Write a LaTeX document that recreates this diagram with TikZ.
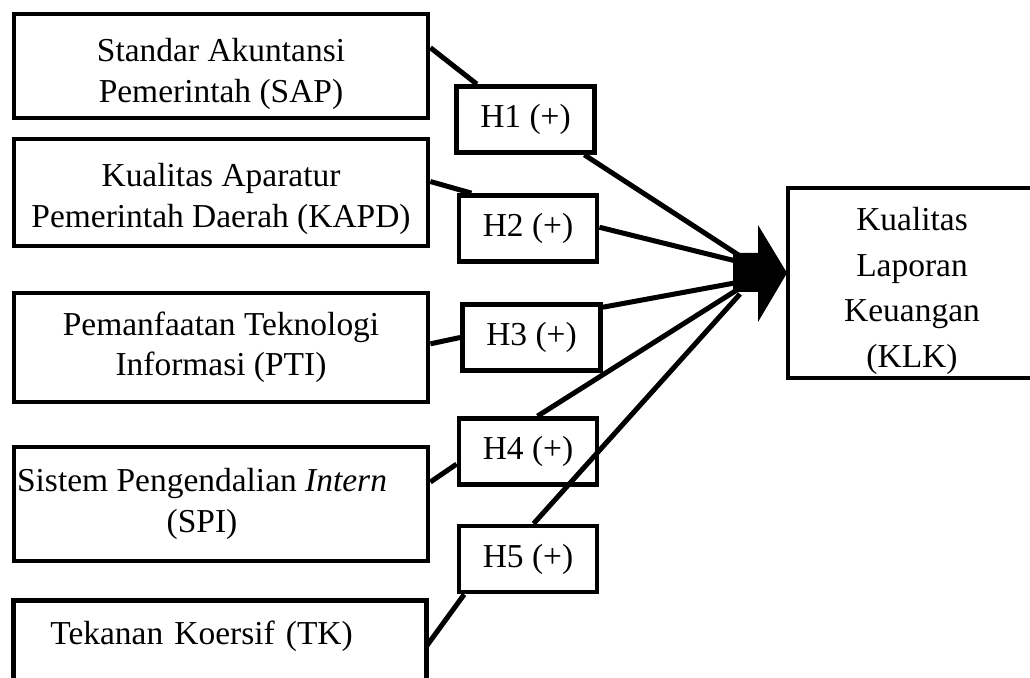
\documentclass[tikz,border=0pt]{standalone}
\usepackage{fontspec}
\setmainfont{Liberation Serif}
\usetikzlibrary{positioning, calc}
\newcommand{\pxu}{0.0126cm}
\tikzset{
  varbox/.style={draw, line width=1.7pt, fill=white, align=center, inner sep=0pt, font=\fontsize{12}{14.4}\selectfont},
  hypbox/.style={varbox, minimum width=138*\pxu, minimum height=66*\pxu},
  link/.style={line width=1.8pt},
}

\begin{document}
\begin{tikzpicture}[x=\pxu, y=-\pxu]
    \useasboundingbox (0,0) rectangle (1030,677);

    % Variabel independen
    \node[varbox, minimum width=414*\pxu, minimum height=104*\pxu] (sap) at (221,66) {\rule{0pt}{14pt}Standar Akuntansi\\Pemerintah (SAP)};
    \node[varbox, minimum width=414*\pxu, minimum height=107*\pxu] (kapd) at (221,192.5) {\rule{0pt}{13pt}Kualitas Aparatur\\Pemerintah Daerah (KAPD)};
    \node[varbox, minimum width=414*\pxu, minimum height=109*\pxu] (pti) at (221,347.5) {Pemanfaatan Teknologi\\Informasi (PTI)};
    \node[varbox, minimum width=414*\pxu, minimum height=114*\pxu] (spi) at (221,504) {Sistem Pengendalian \textit{Intern}\hspace*{13.6pt}\\(SPI)\hspace*{13.6pt}};
    \node[varbox, anchor=north west, align=left, text width=339*\pxu, inner xsep=37*\pxu, text height=44*\pxu, text depth=78*\pxu] (tk) at (11,598) {Tekanan Koersif (TK)};

    % Variabel dependen
    \node[varbox, minimum width=248*\pxu, minimum height=190*\pxu] (klk) at (912,283) {\rule{0pt}{14pt}Kualitas\\[2pt]Laporan\\[2pt]Keuangan\\[2pt](KLK)};

    % Hipotesis
    \node[hypbox] (h1) at (525.5,119.5) {H1 (+)};
    \node[hypbox] (h2) at (528,228.5) {H2 (+)};
    \node[hypbox] (h3) at (531.5,337.5) {H3 (+)};
    \node[hypbox] (h4) at (528,451.5) {H4 (+)};
    \node[hypbox] (h5) at (528,559) {H5 (+)};

    % Titik masuk panah
    \foreach \i/\y in {1/256,2/262,3/282,4/288,5/294}
        \coordinate (in\i) at (740,\y);

    % Garis hubungan
    \draw[link] (sap.5) -- (h1.144);
    \draw[link] (h1.-31) -- (in1);
    \draw[link] (kapd.3) -- (h2.148);
    \draw[link] (h2.1) -- (in2);
    \draw[link] (pti.1) -- (h3.west);
    \draw[link] (h3.23) -- (in3);
    \draw[link] (spi.6) -- (h4.190);
    \draw[link] (h4.75) -- (in4);
    \draw[link, shorten <=-1.5pt] (tk.5) -- (h5.209);
    \draw[link] (h5.81) -- (in5);

    % Panah ke KLK
    \fill (733,253) -- (758,253) -- (758,225) -- (787,273) -- (758,322) -- (758,292) -- (733,292) -- cycle;
\end{tikzpicture}
\end{document}
